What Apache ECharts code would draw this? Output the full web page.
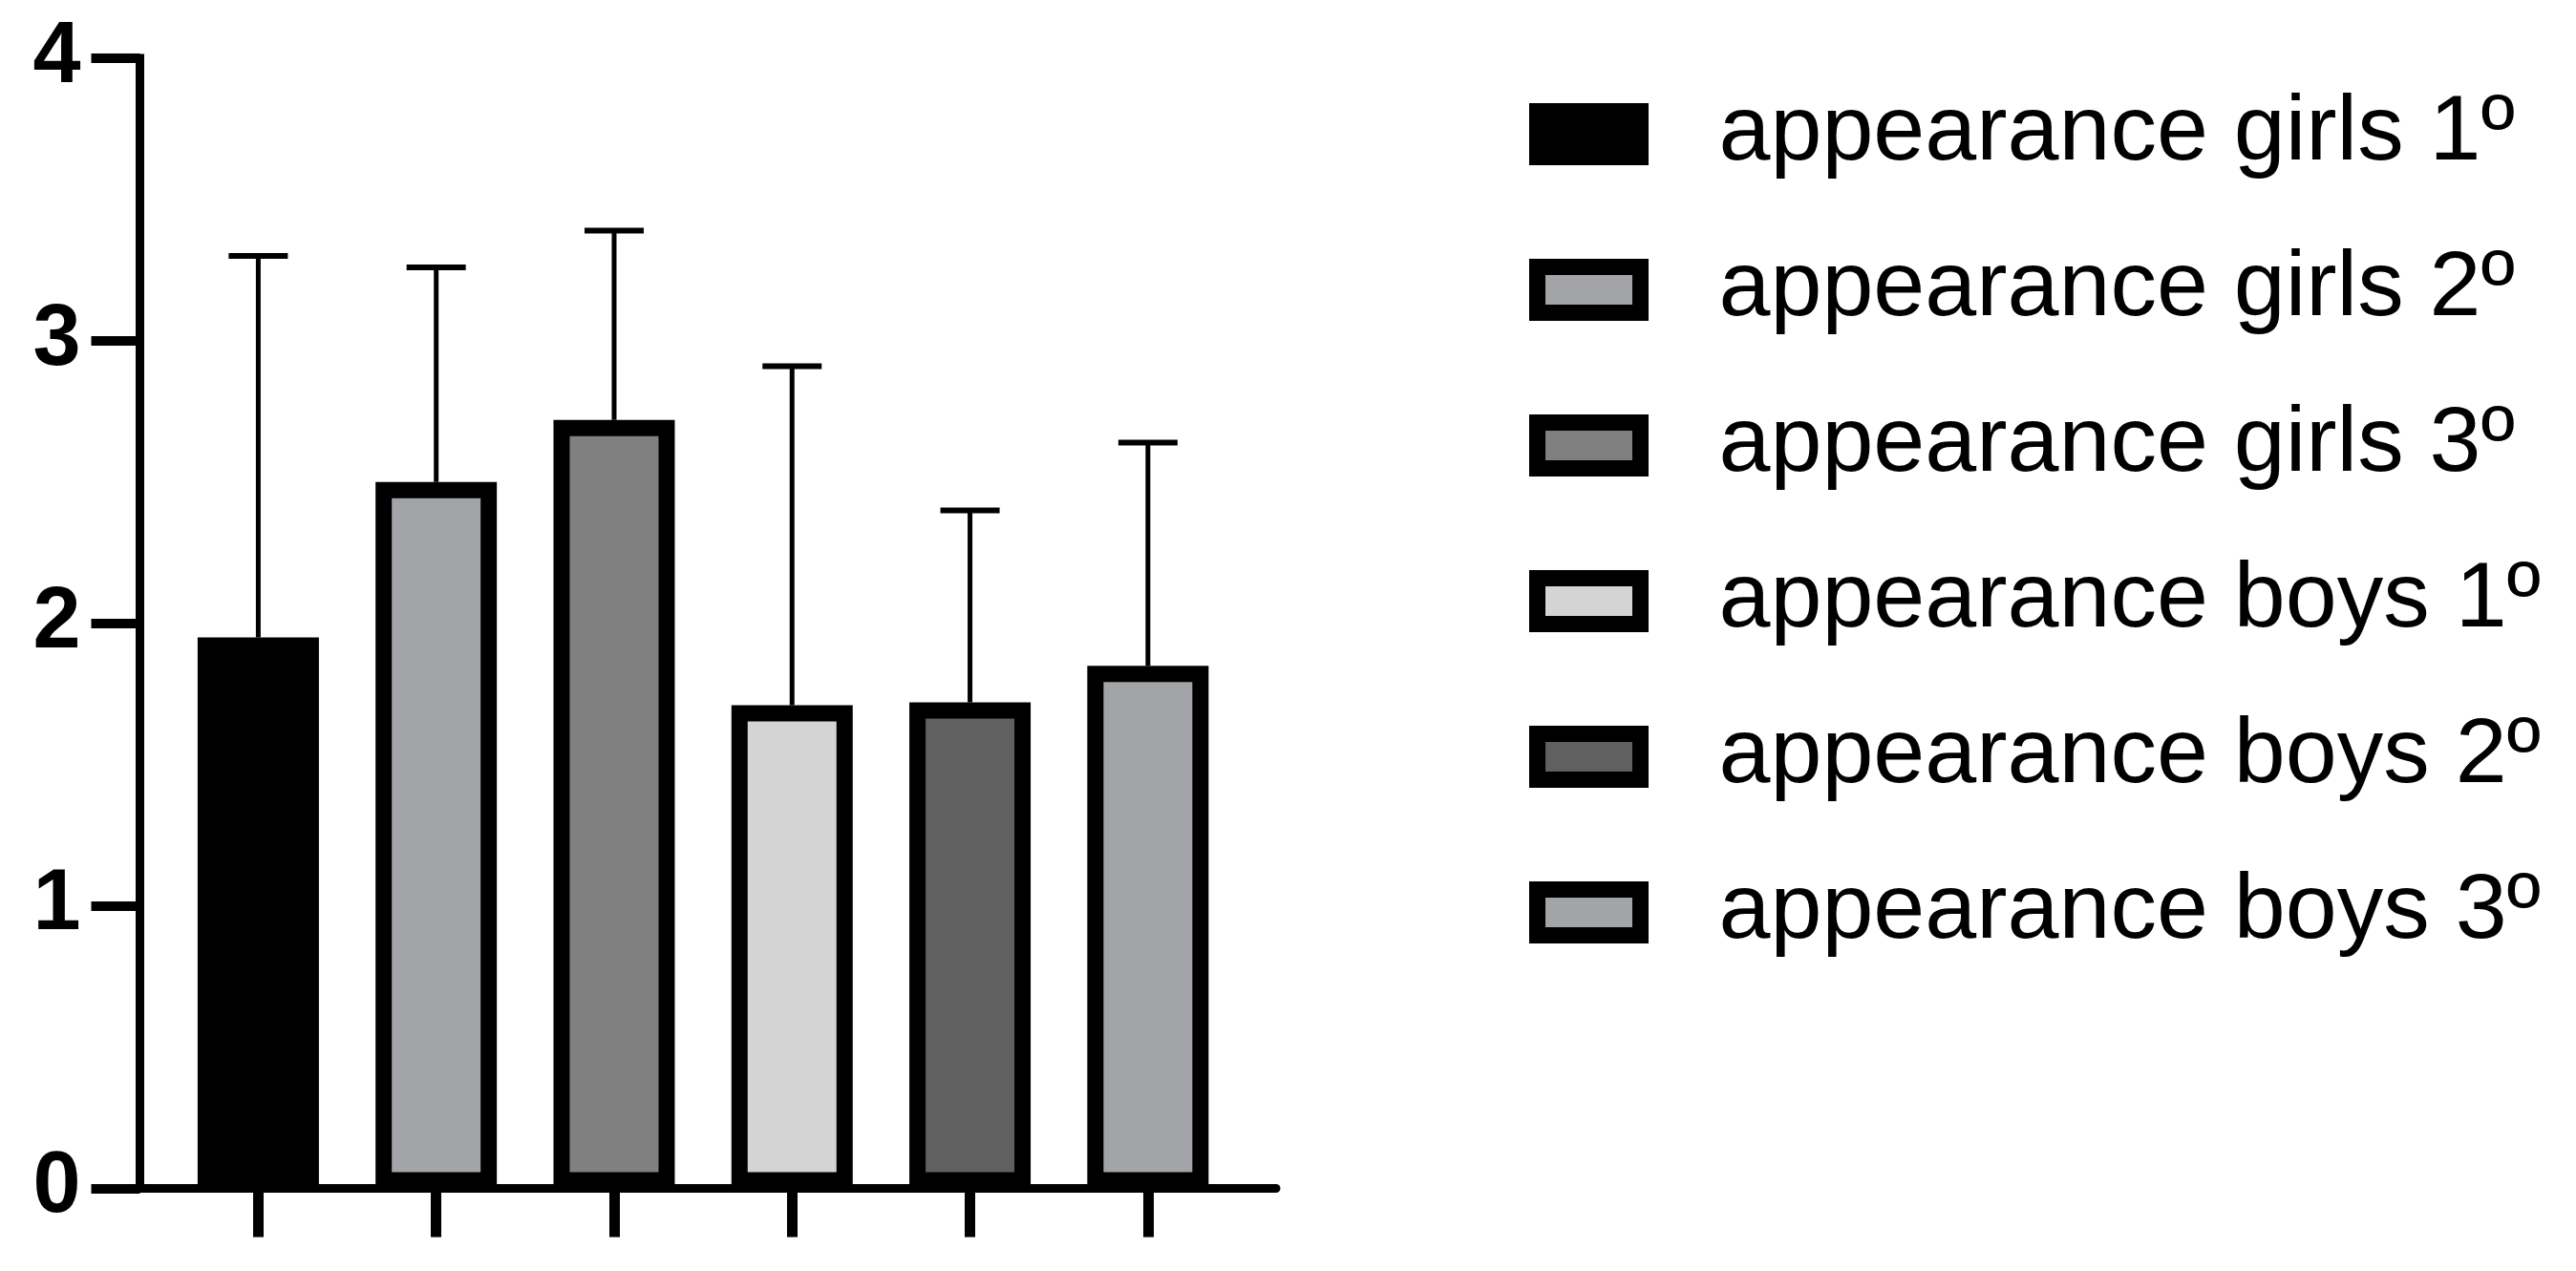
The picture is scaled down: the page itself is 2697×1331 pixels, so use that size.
<!DOCTYPE html>
<html>
<head>
<meta charset="utf-8">
<script src="https://cdn.jsdelivr.net/npm/echarts@6/dist/echarts.min.js"></script>
<style>
  html, body { margin: 0; padding: 0; background: #fff; }
  #chart { width: 2697px; height: 1331px; }
</style>
</head>
<body>
<div id="chart"></div>
<script>
// group names (one bar each, left to right)
const groupNames = [
  'appearance girls 1º',
  'appearance girls 2º',
  'appearance girls 3º',
  'appearance boys 1º',
  'appearance boys 2º',
  'appearance boys 3º'
];
// bar positions on the x axis
const groupPositions = [1, 2, 3, 4, 5, 6];
// mean values
const meanValues = [1.95, 2.50, 2.72, 1.71, 1.72, 1.85];
// standard deviation (upper error bar only)
const sdValues = [1.35, 0.76, 0.67, 1.20, 0.68, 0.79];
// fill colours
const fillColors = ['#000000', '#a3a4a8', '#808080', '#d4d4d4', '#606060', '#a3a4a8'];
// y axis ticks
const yTicks = [0, 1, 2, 3, 4];

const FONT = '"Liberation Sans", Arial, sans-serif';
const BORDER = 17;

const chart = echarts.init(document.getElementById('chart'), null, { renderer: 'canvas' });

// bar border is drawn inside the bar rect by echarts
const barSeries = groupNames.map((name, i) => ({
  name: name,
  type: 'bar',
  barWidth: 127,
  barGap: '-100%',
  data: [[groupPositions[i], meanValues[i]]],
  itemStyle: {
    color: fillColors[i],
    borderColor: '#000',
    borderWidth: BORDER
  },
  z: 2
}));

// error bar data: [x, mean, mean + sd]
const errorData = groupPositions.map((x, i) => [x, meanValues[i], meanValues[i] + sdValues[i]]);

const errorSeries = {
  type: 'custom',
  name: 'sd',
  data: errorData,
  encode: { x: 0, y: [1, 2] },
  z: 1,
  renderItem: function (params, api) {
    const x = api.value(0);
    const base = api.coord([x, api.value(1)]);
    const top = api.coord([x, api.value(2)]);
    return {
      type: 'group',
      children: [
        {
          type: 'line',
          shape: { x1: base[0], y1: base[1], x2: top[0], y2: top[1] },
          style: { stroke: '#000', lineWidth: 5 }
        },
        {
          type: 'line',
          shape: { x1: top[0] - 31, y1: top[1], x2: top[0] + 31, y2: top[1] },
          style: { stroke: '#000', lineWidth: 6 }
        }
      ]
    };
  }
};

const option = {
  backgroundColor: '#fff',
  animation: false,
  grid: {
    left: 146.5,
    right: 1361,
    top: 61,
    bottom: 86.5,
    containLabel: false
  },
  legend: {
    data: groupNames,
    orient: 'vertical',
    left: 1601,
    top: 92,
    padding: 0,
    itemWidth: 108,
    itemHeight: 48,
    itemGap: 66,
    icon: 'rect',
    itemStyle: { borderWidth: BORDER, borderColor: '#000' },
    textStyle: {
      fontFamily: FONT,
      fontSize: 97,
      color: '#000',
      padding: [0, 0, 0, 77]
    }
  },
  xAxis: {
    type: 'value',
    min: 0.335,
    max: 6.72,
    z: 5,
    splitLine: { show: false },
    axisLine: { show: true, onZero: false, lineStyle: { color: '#000', width: 9 } },
    axisTick: {
      show: true,
      customValues: groupPositions,
      length: 51,
      lineStyle: { color: '#000', width: 11 }
    },
    axisLabel: { show: false }
  },
  yAxis: {
    type: 'value',
    min: yTicks[0],
    max: yTicks[yTicks.length - 1],
    interval: 1,
    z: 5,
    splitLine: { show: false },
    axisLine: { show: true, lineStyle: { color: '#000', width: 9, cap: 'square' } },
    axisTick: { show: true, length: 51, lineStyle: { color: '#000', width: 10 } },
    axisLabel: {
      fontFamily: FONT,
      fontWeight: 'bold',
      fontSize: 90,
      color: '#000',
      margin: 62
    }
  },
  series: [errorSeries].concat(barSeries)
};

chart.setOption(option);
</script>
</body>
</html>
